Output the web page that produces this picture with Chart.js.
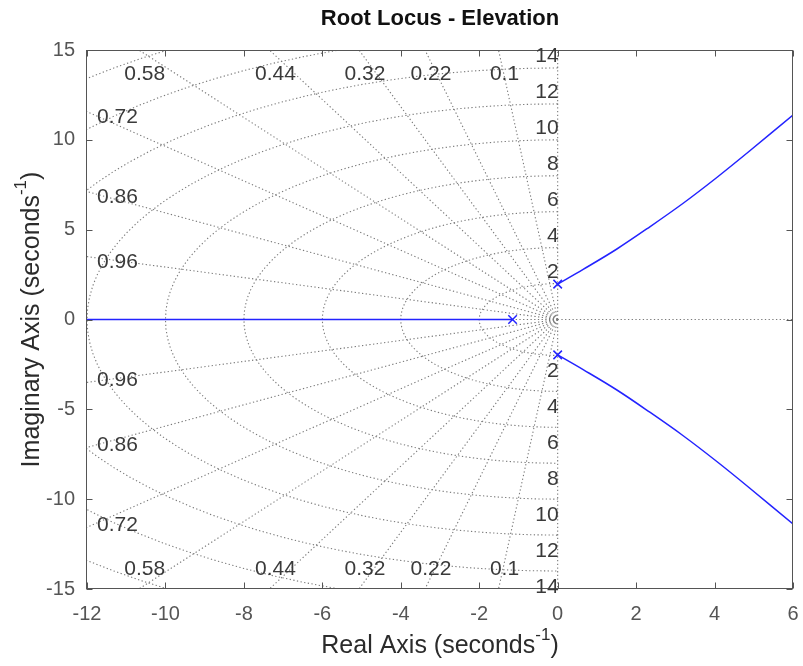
<!DOCTYPE html>
<html>
<head>
<meta charset="utf-8">
<script src="https://cdn.jsdelivr.net/npm/chart.js@4/dist/chart.umd.min.js"></script>
<style>
  html, body { margin: 0; padding: 0; background: #fff; }
  #wrap { width: 803px; height: 666px; }
</style>
</head>
<body>
<div id="wrap"><canvas id="rlocus" width="803" height="666"></canvas></div>
<script>
const xTickValues = [-12, -10, -8, -6, -4, -2, 0, 2, 4, 6];
const yTickValues = [-15, -10, -5, 0, 5, 10, 15];

// open-loop poles
const poleRe = [-1.15, 0, 0];
const poleIm = [0, 1.97, -1.97];

// branch along the negative real axis
const realBranchRe = [-12, -1.15];
const realBranchIm = [0, 0];

// complex branches leaving the poles at +/- 2j
const upperBranchRe = [0, 0.65, 1.5, 2.35, 3.2, 4.05, 4.9, 6.0];
const upperBranchIm = [1.97, 2.79, 3.91, 5.16, 6.47, 7.89, 9.39, 11.38];
const lowerBranchRe = [0, 0.65, 1.5, 2.35, 3.2, 4.05, 4.9, 6.0];
const lowerBranchIm = [-1.97, -2.79, -3.91, -5.16, -6.47, -7.89, -9.39, -11.38];

// s-plane grid
const dampingRatios = [0.1, 0.22, 0.32, 0.44, 0.58, 0.72, 0.86, 0.96];
const dampingLabels = ["0.1", "0.22", "0.32", "0.44", "0.58", "0.72", "0.86", "0.96"];
const naturalFreqs = [2, 4, 6, 8, 10, 12, 14, 16, 18];
const freqLabels = ["2", "4", "6", "8", "10", "12", "14"];

const FONT = "'Liberation Sans', Arial, Helvetica, sans-serif";
const BLUE = "rgb(35,35,255)";
const GRID = "#7a7a7a";
const AXIS = "#555555";

function pts(re, im) {
  return re.map((x, i) => ({ x, y: im[i] }));
}

function gridLine(data) {
  return {
    data,
    showLine: true,
    borderColor: GRID,
    borderWidth: 1.1,
    borderDash: [1.3, 2.4],
    pointRadius: 0,
    tension: 0,
    order: 5,
  };
}

// damping rays from the origin and natural-frequency arcs
const gridSets = [];
dampingRatios.forEach(z => {
  const s = Math.sqrt(1 - z * z);
  gridSets.push(gridLine([{ x: 0, y: 0 }, { x: -z * 40, y: s * 40 }]));
  gridSets.push(gridLine([{ x: 0, y: 0 }, { x: -z * 40, y: -s * 40 }]));
});
naturalFreqs.forEach(w => {
  const arc = [];
  for (let a = 90; a <= 270; a += 3) {
    const t = a * Math.PI / 180;
    arc.push({ x: w * Math.cos(t), y: w * Math.sin(t) });
  }
  gridSets.push(gridLine(arc));
});
gridSets.push(gridLine([{ x: 0, y: 0 }, { x: 0, y: 15 }]));
gridSets.push(gridLine([{ x: 0, y: 0 }, { x: 0, y: -15 }]));
gridSets.push(gridLine([{ x: 0, y: 0 }, { x: 6, y: 0 }]));
gridSets.push(gridLine([{ x: 0, y: 0 }, { x: -12, y: 0 }]));

function branch(data) {
  return {
    data,
    showLine: true,
    borderColor: BLUE,
    borderWidth: 1.5,
    pointRadius: 0,
    tension: 0.35,
    order: 1,
  };
}

function drawSupText(ctx, main, sup, tail, size) {
  const supSize = Math.round(size * 0.68);
  ctx.font = `${size}px ${FONT}`;
  const w1 = ctx.measureText(main).width;
  const w3 = ctx.measureText(tail).width;
  ctx.font = `${supSize}px ${FONT}`;
  const w2 = ctx.measureText(sup).width;
  let x0 = -(w1 + w2 + w3) / 2;
  ctx.textAlign = "left";
  ctx.textBaseline = "middle";
  ctx.font = `${size}px ${FONT}`;
  ctx.fillText(main, x0, 0);
  ctx.font = `${supSize}px ${FONT}`;
  ctx.fillText(sup, x0 + w1, -size * 0.42);
  ctx.font = `${size}px ${FONT}`;
  ctx.fillText(tail, x0 + w1 + w2, 0);
}

const decorations = {
  id: "decorations",
  afterDatasetsDraw(chart) {
    const { ctx, chartArea: a, scales } = chart;
    const sx = scales.x, sy = scales.y;
    ctx.save();

    // frame
    ctx.strokeStyle = AXIS;
    ctx.lineWidth = 1;
    const L = Math.round(a.left) - 0.5, R = Math.round(a.right) - 0.5;
    const T = Math.round(a.top) + 0.5, B = Math.round(a.bottom) - 0.5;
    ctx.strokeRect(L, T, R - L, B - T);

    // inward tick marks on all four sides
    ctx.beginPath();
    xTickValues.forEach(v => {
      const px = Math.round(sx.getPixelForValue(v)) + 0.5;
      ctx.moveTo(px, B); ctx.lineTo(px, B - 6);
      ctx.moveTo(px, T); ctx.lineTo(px, T + 6);
    });
    yTickValues.forEach(v => {
      const py = Math.round(sy.getPixelForValue(v)) + 0.5;
      ctx.moveTo(L, py); ctx.lineTo(L + 6, py);
      ctx.moveTo(R, py); ctx.lineTo(R - 6, py);
    });
    ctx.stroke();

    // damping ratio labels where the rays leave the axes
    ctx.fillStyle = "#3a3a3a";
    ctx.font = `21px ${FONT}`;
    dampingRatios.forEach((z, i) => {
      const s = Math.sqrt(1 - z * z);
      const xTop = -sy.max * z / s;
      if (xTop >= sx.min) {
        const px = sx.getPixelForValue(xTop) + 6;
        ctx.textAlign = "center";
        ctx.textBaseline = "middle";
        ctx.fillText(dampingLabels[i], px, a.top + 24);
        ctx.fillText(dampingLabels[i], px, a.bottom - 20);
      } else {
        const yLeft = -sx.min * s / z;
        ctx.textAlign = "left";
        ctx.textBaseline = "middle";
        ctx.fillText(dampingLabels[i], a.left + 10, sy.getPixelForValue(yLeft) + 6);
        ctx.fillText(dampingLabels[i], a.left + 10, sy.getPixelForValue(-yLeft) - 2);
      }
    });

    // natural frequency labels along the imaginary axis
    ctx.textAlign = "right";
    ctx.textBaseline = "alphabetic";
    const x0 = sx.getPixelForValue(0) + 1;
    freqLabels.forEach((lab, i) => {
      const w = naturalFreqs[i];
      ctx.fillText(lab, x0, sy.getPixelForValue(w) - 6);
      ctx.fillText(lab, x0, sy.getPixelForValue(-w) + 22);
    });

    // title and axis titles
    ctx.fillStyle = "#111";
    ctx.font = `bold 22px ${FONT}`;
    ctx.textAlign = "center";
    ctx.textBaseline = "middle";
    ctx.fillText("Root Locus - Elevation", (a.left + a.right) / 2, 19);

    ctx.fillStyle = "#2b2b2b";
    ctx.save();
    ctx.translate((a.left + a.right) / 2, 646);
    drawSupText(ctx, "Real Axis (seconds", "-1", ")", 25);
    ctx.restore();

    ctx.save();
    ctx.translate(32, (a.top + a.bottom) / 2);
    ctx.rotate(-Math.PI / 2);
    drawSupText(ctx, "Imaginary Axis (seconds", "-1", ")", 25);
    ctx.restore();

    ctx.restore();
  }
};

new Chart(document.getElementById("rlocus"), {
  type: "scatter",
  data: {
    datasets: [
      {
        data: pts(poleRe, poleIm),
        pointStyle: "crossRot",
        pointRadius: 6,
        pointBorderWidth: 1.5,
        borderColor: BLUE,
        backgroundColor: BLUE,
        showLine: false,
        order: 0,
      },
      branch(pts(realBranchRe, realBranchIm)),
      branch(pts(upperBranchRe, upperBranchIm)),
      branch(pts(lowerBranchRe, lowerBranchIm)),
      ...gridSets,
    ],
  },
  options: {
    responsive: false,
    animation: false,
    layout: { padding: { top: 50, right: 10, left: 0, bottom: 0 } },
    plugins: { legend: { display: false }, tooltip: { enabled: false } },
    scales: {
      x: {
        type: "linear",
        min: -12,
        max: 6,
        afterBuildTicks: s => { s.ticks = xTickValues.map(v => ({ value: v })); },
        afterFit: s => { s.height = 77; s.paddingLeft = 0; s.paddingRight = 0; },
        grid: { display: false, drawTicks: false },
        border: { display: false },
        ticks: { font: { family: FONT, size: 20 }, color: AXIS, padding: 13, maxRotation: 0, autoSkip: false },
      },
      y: {
        type: "linear",
        min: -15,
        max: 15,
        afterBuildTicks: s => { s.ticks = yTickValues.map(v => ({ value: v })); },
        afterFit: s => { s.width = 87; s.paddingTop = 0; s.paddingBottom = 0; },
        grid: { display: false, drawTicks: false },
        border: { display: false },
        ticks: { font: { family: FONT, size: 20 }, color: AXIS, padding: 12, autoSkip: false },
      },
    },
  },
  plugins: [decorations],
});
</script>
</body>
</html>
